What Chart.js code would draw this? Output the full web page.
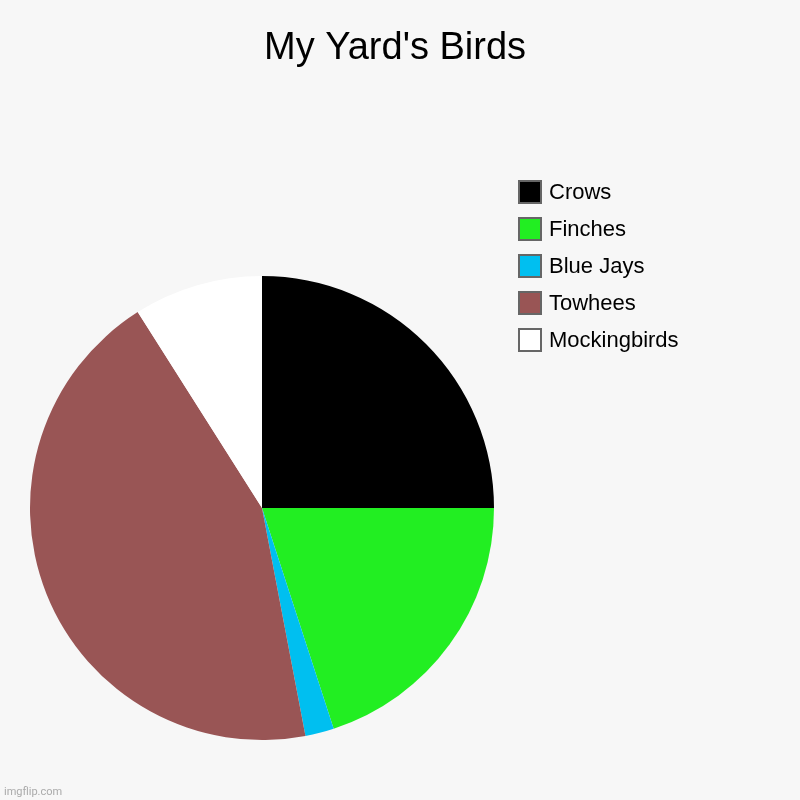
<!DOCTYPE html>
<html>
<head>
<meta charset="utf-8">
<script src="https://cdn.jsdelivr.net/npm/chart.js@4"></script>
<style>
html,body{margin:0;padding:0;background:#f7f7f7;}
#wrap{width:800px;height:800px;position:relative;}
</style>
</head>
<body>
<div id="wrap"><canvas id="c" width="800" height="800"></canvas></div>
<script>
const titleText = "My Yard's Birds";
const categories = ["Crows", "Finches", "Blue Jays", "Towhees", "Mockingbirds"];
const counts = [25, 20, 2, 44, 9];
const sliceColors = ["#000000", "#22ee22", "#00bff0", "#995555", "#ffffff"];
const watermark = "imgflip.com";

const extras = {
  id: 'extras',
  beforeDraw(chart) {
    const ctx = chart.ctx;
    ctx.save();
    ctx.fillStyle = '#f7f7f7';
    ctx.fillRect(0, 0, chart.width, chart.height);
    ctx.restore();
  },
  afterDraw(chart) {
    const ctx = chart.ctx;
    ctx.save();
    ctx.fillStyle = '#000';
    ctx.font = '38px "Liberation Sans", Arial, sans-serif';
    ctx.textAlign = 'center';
    ctx.textBaseline = 'alphabetic';
    ctx.fillText(titleText, 395, 59);

    // legend
    const labels = chart.data.labels;
    const colors = chart.data.datasets[0].backgroundColor;
    ctx.font = '22px "Liberation Sans", Arial, sans-serif';
    ctx.textAlign = 'left';
    ctx.textBaseline = 'middle';
    labels.forEach((lab, i) => {
      const cy = 192 + i * 37;
      ctx.fillStyle = colors[i];
      ctx.fillRect(519, cy - 11, 22, 22);
      ctx.strokeStyle = '#666666';
      ctx.lineWidth = 2;
      ctx.strokeRect(519, cy - 11, 22, 22);
      ctx.fillStyle = '#000';
      ctx.fillText(lab, 549, cy + 1);
    });

    ctx.fillStyle = '#aaaaaa';
    ctx.font = '11px "Roboto", "Liberation Sans", Arial, sans-serif';
    ctx.textBaseline = 'alphabetic';
    ctx.fillText(watermark, 4, 795);
    ctx.restore();
  }
};

new Chart(document.getElementById('c'), {
  type: 'pie',
  data: {
    labels: categories,
    datasets: [{
      data: counts,
      backgroundColor: sliceColors,
      borderWidth: 0,
      hoverOffset: 0
    }]
  },
  options: {
    responsive: false,
    animation: false,
    layout: { padding: { left: 30, top: 276, right: 306, bottom: 60 } },
    plugins: {
      legend: { display: false },
      title: { display: false },
      tooltip: { enabled: false }
    }
  },
  plugins: [extras]
});
</script>
</body>
</html>
